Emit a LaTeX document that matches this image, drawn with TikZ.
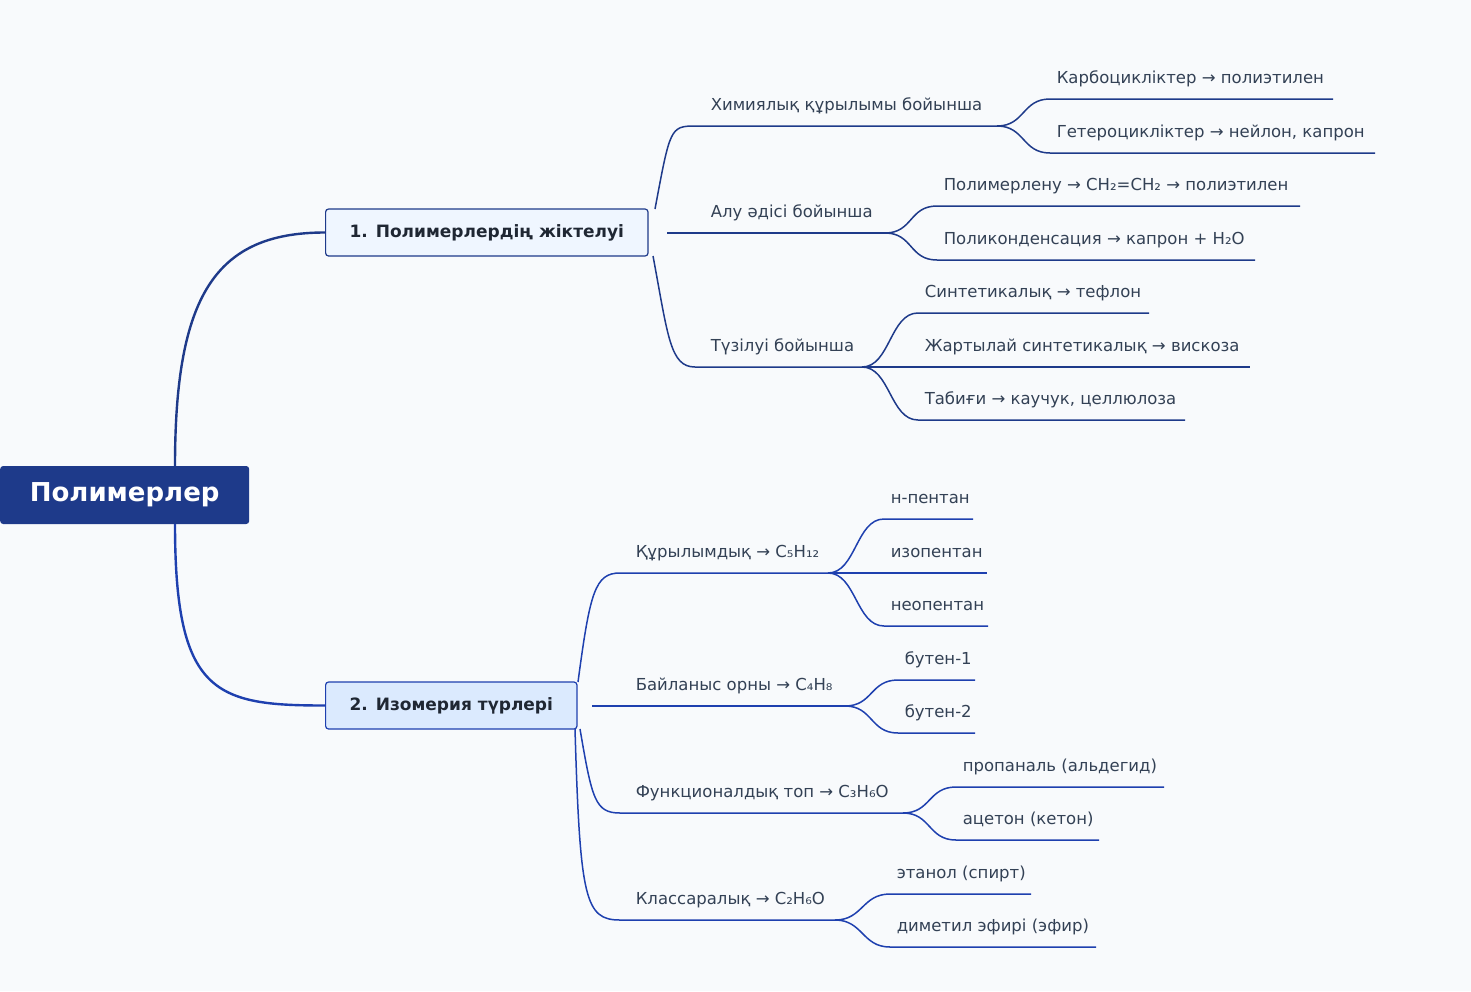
\documentclass[tikz,border=0pt]{standalone}
\usepackage{fontspec}
\setmainfont{DejaVu Sans}
\definecolor{bgc}{HTML}{F8FAFC}
\definecolor{darkb}{HTML}{1E3A8A}
\definecolor{midb}{HTML}{1E40AF}
\definecolor{txt}{HTML}{334155}
\definecolor{fillA}{HTML}{EFF6FF}
\definecolor{fillB}{HTML}{DBEAFE}

\begin{document}
\begin{tikzpicture}[x=1pt,y=-1pt,
    root node/.style={fill=darkb,text=white,rounded corners=3pt,minimum width=249pt,
                      minimum height=58pt,font=\bfseries\fontsize{26}{30}\selectfont,anchor=west},
    main node/.style={draw=darkb,line width=1.2pt,rounded corners=3pt,minimum height=47pt,
                      inner xsep=24pt,font=\bfseries\fontsize{17}{20}\selectfont,text=txt!60!black,anchor=west},
    lbl/.style={anchor=base west,text=txt,inner sep=0pt,font=\fontsize{16.5}{19}\selectfont},
    trunk/.style={line width=2.4pt},
    twig/.style={line width=1.5pt}]
  \fill[bgc] (0,0) rectangle (1471,991);
  \useasboundingbox (0,0) rectangle (1471,991);

  % root and main branches
  \node[root node] (root) at (0,495) {Полимерлер};
  \node[main node,fill=fillA] (cls) at (325,232.5) {1. Полимерлердің жіктелуі};
  \node[main node,fill=fillB,draw=midb] (iso) at (325,705.5) {2. Изомерия түрлері};
  \draw[trunk,darkb] (175,466) .. controls +(0,-170) and +(-110,0) .. (cls.west);
  \draw[trunk,midb] (175,524) .. controls +(0,170) and +(-110,0) .. (iso.west);

  % classification
  \begin{scope}[twig,darkb]
    \coordinate (chS) at (695,126); \coordinate (chE) at (997,126);
    \coordinate (alS) at (667,233); \coordinate (alE) at (885,233);
    \coordinate (tzS) at (695,367); \coordinate (tzE) at (862,367);
    \draw (655,209) .. controls +(15,-80) and +(-25,0) .. (chS) -- (chE);
    \draw (alS) -- (alE);
    \draw (653,256) .. controls +(15,80) and +(-25,0) .. (tzS) -- (tzE);
    \node[lbl] (ch) at (710,110) {Химиялық құрылымы бойынша};
    \node[lbl] (al) at (710,217) {Алу әдісі бойынша};
    \node[lbl] (tz) at (710,351) {Түзілуі бойынша};
    \foreach \p/\x/\y/\e/\t in {
        chE/1050/99/1333/{Карбоциклiктер → полиэтилен},
        chE/1050/153/1375/{Гетероциклiктер → нейлон, капрон},
        alE/937/206/1300/{Полимерлену → CH₂=CH₂ → полиэтилен},
        alE/937/260/1255/{Поликонденсация → капрон + H₂O},
        tzE/918/313/1149/{Синтетикалық → тефлон},
        tzE/918/367/1250/{Жартылай синтетикалық → вискоза},
        tzE/918/420/1185/{Табиғи → каучук, целлюлоза}}{
      \draw (\p) .. controls +(28,0) and +(-28,0) .. (\x,\y) -- (\e,\y);
      \node[lbl] at (\x+6,\y-16) {\t};
    }
  \end{scope}

  % isomerism
  \begin{scope}[twig,midb]
    \coordinate (qrS) at (620,573); \coordinate (qrE) at (828,573);
    \coordinate (bnS) at (592,706); \coordinate (bnE) at (845,706);
    \coordinate (fnS) at (620,813); \coordinate (fnE) at (903,813);
    \coordinate (ksS) at (620,920); \coordinate (ksE) at (835,920);
    \draw (578,682) .. controls +(12,-90) and +(-25,0) .. (qrS) -- (qrE);
    \draw (bnS) -- (bnE);
    \draw (580,729) .. controls +(12,70) and +(-25,0) .. (fnS) -- (fnE);
    \draw (575,729) .. controls +(5,170) and +(-35,0) .. (ksS) -- (ksE);
    \node[lbl] (qr) at (635,557) {Құрылымдық → C₅H₁₂};
    \node[lbl] (bn) at (635,690) {Байланыс орны → C₄H₈};
    \node[lbl] (fn) at (635,797) {Функционалдық топ → C₃H₆O};
    \node[lbl] (ks) at (635,904) {Классаралық → C₂H₆O};
    \foreach \p/\x/\y/\e/\t in {
        qrE/884/519/973/{н-пентан},
        qrE/884/573/987/{изопентан},
        qrE/884/626/988/{неопентан},
        bnE/898/680/975/{бутен-1},
        bnE/898/733/975/{бутен-2},
        fnE/956/787/1164/{пропаналь (альдегид)},
        fnE/956/840/1099/{ацетон (кетон)},
        ksE/890/894/1031/{этанол (спирт)},
        ksE/890/947/1096/{диметил эфирі (эфир)}}{
      \draw (\p) .. controls +(28,0) and +(-28,0) .. (\x,\y) -- (\e,\y);
      \node[lbl] at (\x+6,\y-16) {\t};
    }
  \end{scope}
\end{tikzpicture}
\end{document}
